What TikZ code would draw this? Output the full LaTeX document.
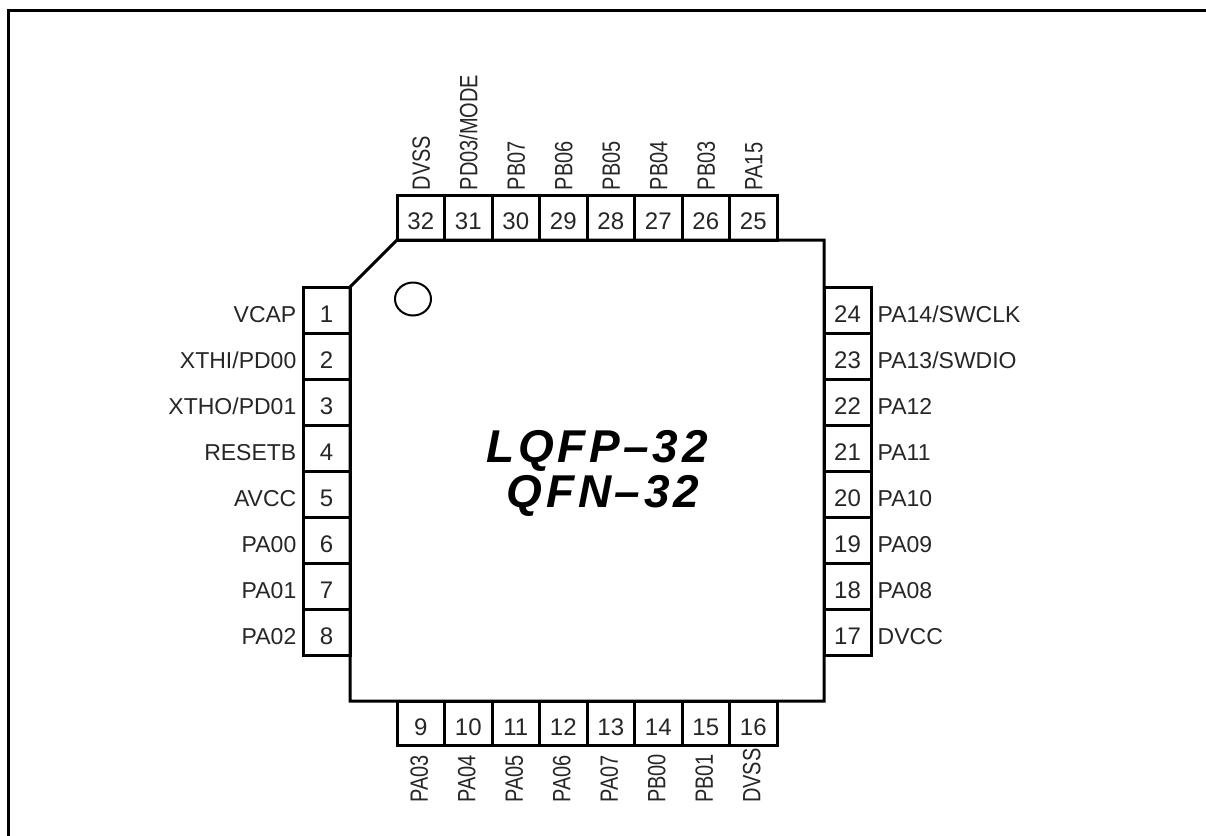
\documentclass[tikz,border=0pt]{standalone}
\usepackage{fontspec}
\setmainfont{Liberation Sans}
\newfontfamily\rotfont[FakeStretch=0.8]{Liberation Sans}
\newfontfamily\titlefont[LetterSpace=8]{Liberation Sans}
\begin{document}
\begin{tikzpicture}[x=1pt,y=-1pt,
  every node/.style={inner sep=0pt, font=\fontsize{23}{28}\selectfont, text=black!85},
  hpin/.style={draw, line width=3pt, rectangle, minimum width=47.5pt, minimum height=45pt, text height=24pt, text depth=0pt, font=\fontsize{24}{28}\selectfont},
  vpin/.style={draw, line width=3pt, rectangle, minimum width=47pt, minimum height=46pt, text height=24pt, text depth=0pt, font=\fontsize{24}{28}\selectfont},
  plabel/.style={},
  rlabel/.style={rotate=90, anchor=base west, font=\rotfont\fontsize{25}{28}\selectfont},
  title/.style={font=\titlefont\fontsize{46}{46}\selectfont\bfseries\itshape, text=black}]
\useasboundingbox (0,0) rectangle (1206,835);
\clip (0,0) rectangle (1206,835);
% outer frame
\draw[line width=3pt] (8,900) -- (8,10) -- (1300,10);
% chip body
\draw[line width=3pt, line join=miter] (350,287) -- (397,240) -- (824,240) -- (824,701) -- (350,701) -- cycle;
\draw[line width=2pt] (413,299) ellipse [x radius=18pt, y radius=16.5pt];
% top pins 32..25
\foreach \n/\lab [count=\k from 0] in {32/DVSS,31/PD03\slash MODE,30/PB07,29/PB06,28/PB05,27/PB04,26/PB03,25/PA15}{
  \node[hpin] (p\n) at (420.75+47.5*\k,217.5) {\n};
  \node[rlabel] (l\n) at ([xshift=9pt,yshift=3pt]p\n.north) {\lab};
}
% bottom pins 9..16
\foreach \n/\lab [count=\k from 0] in {9/PA03,10/PA04,11/PA05,12/PA06,13/PA07,14/PB00,15/PB01,16/DVSS}{
  \node[hpin, minimum height=44pt] (p\n) at (420.75+47.5*\k,723) {\n};
  \node[rlabel] (l\n) at ([xshift=7pt,yshift=-80pt]p\n.center) {\lab};
}
% left pins 1..8
\foreach \n/\lab [count=\k from 0] in {1/VCAP,2/XTHI\slash PD00,3/XTHO\slash PD01,4/RESETB,5/AVCC,6/PA00,7/PA01,8/PA02}{
  \node[vpin] (p\n) at (326.5,310+46*\k) {\n};
  \node[plabel, anchor=base east] (l\n) at ([xshift=-5pt,yshift=-12pt]p\n.west) {\lab};
}
% right pins 24..17
\foreach \n/\lab [count=\k from 0] in {24/PA14\slash SWCLK,23/PA13\slash SWDIO,22/PA12,21/PA11,20/PA10,19/PA09,18/PA08,17/DVCC}{
  \node[vpin] (p\n) at (847.5,310+46*\k) {\n};
  \node[plabel, anchor=base west] (l\n) at ([xshift=5pt,yshift=-12pt]p\n.east) {\lab};
}
% title
\node[title, anchor=base] (t1) at (597,462) {LQFP–32};
\node[title, anchor=base] (t2) at (603,507) {QFN–32};
\end{tikzpicture}
\end{document}
